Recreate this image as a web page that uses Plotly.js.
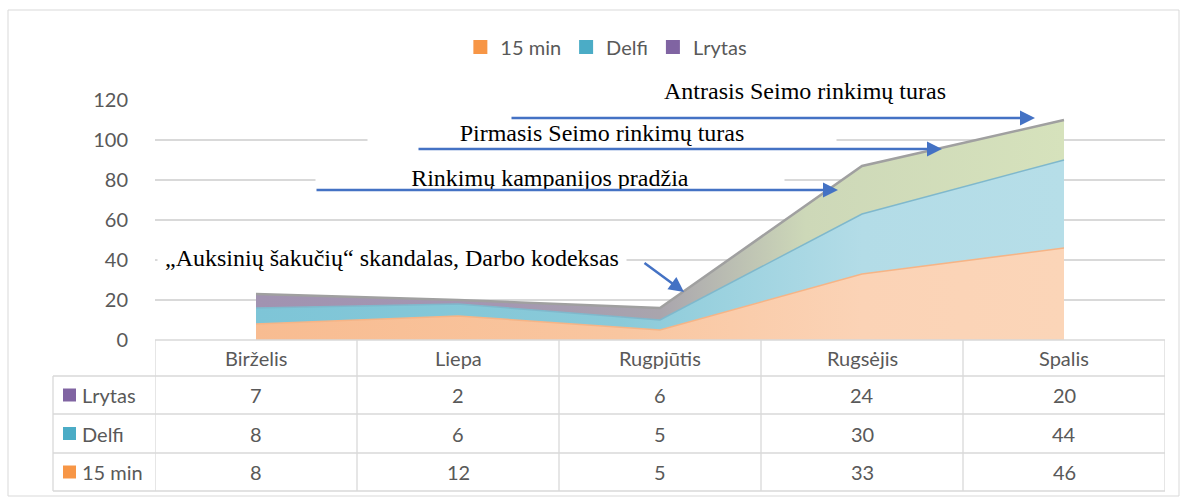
<!DOCTYPE html>
<html>
<head>
<meta charset="utf-8">
<script src="https://cdn.plot.ly/plotly-3.0.1.min.js"></script>
<style>html,body{margin:0;padding:0;background:#fff;}#chart{width:1182px;height:498px;}</style>
</head>
<body>
<div id="chart"></div>
<script>
// ---- data ----
const categories = ["Birželis", "Liepa", "Rugpjūtis", "Rugsėjis", "Spalis"];
const min15 = [8, 12, 5, 33, 46];
const delfi = [8, 6, 5, 30, 44];
const lrytas = [7, 2, 6, 24, 20];
const seriesNames = ["15 min", "Delfi", "Lrytas"];
const yTicks = [0, 20, 40, 60, 80, 100, 120];
const notes = [
  "Antrasis Seimo rinkimų turas",
  "Pirmasis Seimo rinkimų turas",
  "Rinkimų kampanijos pradžia",
  "„Auksinių šakučių“ skandalas, Darbo kodeksas"
];

// ---- geometry helpers (pixel -> paper) ----
const W = 1182, H = 498;
const L = 155, R = 17, T = 100, B = 158;
const PW = W - L - R, PH = H - T - B;
const px = p => (p - L) / PW;
const py = p => (H - B - p) / PH;

const sansFont = "Lato, 'Open Sans', sans-serif";
const serifFont = "'Liberation Serif', 'Times New Roman', serif";
const grey = "#595959";
const lineGrey = "#D9D9D9";
const FS = 20;

const legendColors = ["#F79646", "#4BACC6", "#8064A2"];

const traces = [
  {
    x: categories, y: min15, name: seriesNames[0], type: "scatter", mode: "lines",
    stackgroup: "one", showlegend: false, hoverinfo: "skip",
    line: {color: "#F6B486", width: 1.5},
    fillcolor: "#FAD0B1",
    fillgradient: {type: "horizontal", colorscale: [[0, "#F8BC91"], [0.45, "#F9C6A0"], [0.75, "#FBD3B6"], [1, "#FBD5B8"]]}
  },
  {
    x: categories, y: delfi, name: seriesNames[1], type: "scatter", mode: "lines",
    stackgroup: "one", showlegend: false, hoverinfo: "skip",
    line: {color: "#7FB8CC", width: 1.5},
    fillcolor: "#B5DDE8",
    fillgradient: {type: "horizontal", colorscale: [[0, "#7EC5D7"], [0.45, "#8ACAD9"], [0.75, "#B3DCE7"], [1, "#B6DEE8"]]}
  },
  {
    x: categories, y: lrytas, name: seriesNames[2], type: "scatter", mode: "lines",
    stackgroup: "one", showlegend: false, hoverinfo: "skip",
    line: {color: "#A0A0A0", width: 2.5},
    fillcolor: "#D6E2BC",
    fillgradient: {type: "horizontal", colorscale: [[0, "#A193B1"], [0.3, "#A497B2"], [0.5, "#A9A5AD"], [0.68, "#CDD8B8"], [1, "#D6E2BC"]]}
  }
];
// legend entries
seriesNames.forEach((n, i) => {
  traces.push({
    x: [null], y: [null], name: n, type: "scatter", mode: "markers",
    marker: {symbol: "square", size: 14, color: legendColors[i]},
    showlegend: true, hoverinfo: "skip"
  });
});

const shapes = [];
const annotations = [];

// outer border
shapes.push({type: "rect", xref: "paper", yref: "paper", x0: px(8), x1: px(1179), y0: py(10), y1: py(496),
  line: {color: lineGrey, width: 1}, fillcolor: "rgba(0,0,0,0)", layer: "below"});

// data table lines
const rowTops = [340, 376, 414, 453, 491];
rowTops.forEach((r, i) => {
  shapes.push({type: "line", xref: "paper", yref: "paper",
    x0: i === 0 ? px(155) : px(53), x1: px(1165), y0: py(r), y1: py(r),
    line: {color: lineGrey, width: 1.3}});
});
for (let k = 0; k <= categories.length; k++) {
  shapes.push({type: "line", xref: "x", yref: "paper", x0: k - 0.5, x1: k - 0.5, y0: py(340), y1: py(491),
    line: {color: lineGrey, width: 1.3}});
}
shapes.push({type: "line", xref: "paper", yref: "paper", x0: px(53), x1: px(53), y0: py(376), y1: py(491),
  line: {color: lineGrey, width: 1.3}});

// header labels
categories.forEach((c, k) => {
  annotations.push({xref: "x", yref: "paper", x: k, y: py(358), xanchor: "center", yanchor: "middle", text: c, showarrow: false,
    font: {family: sansFont, size: FS, color: grey}});
});
// table rows (top row Lrytas)
const tableRows = [[seriesNames[2], lrytas, legendColors[2]], [seriesNames[1], delfi, legendColors[1]], [seriesNames[0], min15, legendColors[0]]];
const rowCenters = [395, 433.5, 472];
tableRows.forEach((row, i) => {
  const yc = rowCenters[i];
  shapes.push({type: "rect", xref: "paper", yref: "paper", x0: px(63), x1: px(76), y0: py(yc - 6.5), y1: py(yc + 6.5),
    line: {width: 0}, fillcolor: row[2]});
  annotations.push({xref: "paper", yref: "paper", x: px(80), y: py(yc), xanchor: "left", yanchor: "middle", text: row[0], showarrow: false,
    font: {family: sansFont, size: FS, color: grey}});
  row[1].forEach((v, k) => {
    annotations.push({xref: "x", yref: "paper", x: k, y: py(yc), xanchor: "center", yanchor: "middle", text: String(v), showarrow: false,
      font: {family: sansFont, size: FS, color: grey}});
  });
});

// note text boxes (white background hides gridlines like the Word text boxes)
const boxes = [[805, 91], [602, 133], [550, 178], [392, 258]];
notes.forEach((t, i) => {
  annotations.push({xref: "paper", yref: "paper", x: px(boxes[i][0]), y: py(boxes[i][1]), xanchor: "center", yanchor: "middle",
    text: t, showarrow: false, width: 466, height: 28, bgcolor: "#FFFFFF",
    font: {family: serifFont, size: 24, color: "#000000"}});
});
// arrows: head pixel, tail pixel
const arrows = [[1035, 118, 510, 118], [942, 149, 417, 149], [838, 190, 315, 190], [684, 292, 643, 262]];
arrows.forEach(a => {
  annotations.push({xref: "paper", yref: "paper", x: px(a[0]), y: py(a[1]), ax: a[2] - a[0], ay: a[3] - a[1],
    text: "", showarrow: true, arrowhead: 2, arrowsize: 1.2, arrowwidth: 2.5, arrowcolor: "#4472C4"});
});

const layout = {
  width: W, height: H,
  margin: {l: L, r: R, t: T, b: B, pad: 0},
  paper_bgcolor: "#FFFFFF", plot_bgcolor: "#FFFFFF",
  showlegend: true,
  legend: {orientation: "h", traceorder: "normal", xref: "container", yref: "container", x: 0.513, xanchor: "center", y: 1 - 47 / H, yanchor: "middle",
    font: {family: sansFont, size: FS, color: grey}, itemwidth: 30, tracegroupgap: 0},
  xaxis: {type: "category", range: [-0.5, 4.5], showticklabels: false, showgrid: false, zeroline: false, showline: false, ticks: ""},
  yaxis: {range: [0, 120], tickvals: yTicks, ticktext: yTicks.map(String), showgrid: true, gridcolor: lineGrey, gridwidth: 1.3,
    zeroline: false, showline: false, ticks: "outside", ticklen: 22, tickcolor: "rgba(0,0,0,0)",
    tickfont: {family: sansFont, size: FS, color: grey}, fixedrange: true},
  shapes: shapes,
  annotations: annotations,
  hovermode: false
};

Plotly.newPlot("chart", traces, layout, {staticPlot: true, displayModeBar: false});
</script>
</body>
</html>
